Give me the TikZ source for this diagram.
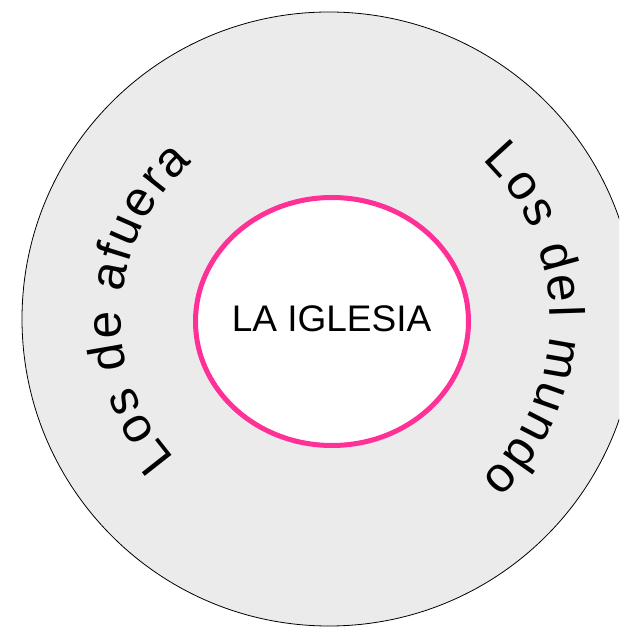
\documentclass[tikz,border=0pt]{standalone}
\usepackage{fontspec}
\setmainfont{Liberation Sans}
\usetikzlibrary{decorations.text}
\definecolor{ringgray}{RGB}{235,235,235}
\definecolor{churchpink}{RGB}{255,48,150}
\begin{document}
\begin{tikzpicture}[x=1pt,y=1pt,
  arctext/.style={decorate, decoration={text along path, text align=fit to path, text={#1}}}]
  \useasboundingbox (0,0) rectangle (619,627);
  \clip (0,0) rectangle (619,627);
  % outer ring: the world
  \coordinate (c) at (329,308);
  \fill[ringgray] (c) circle[radius=307pt];
  \draw[line width=0.8pt] (c) circle[radius=307pt];
  % inner ellipse: the church
  \draw[churchpink, line width=5pt, fill=white] (332,305.5) ellipse[x radius=136.5pt, y radius=124pt];
  \node[inner sep=0pt, font=\fontsize{37}{40}\selectfont] (iglesia) at (331.5,308.7) {LA IGLESIA};
  % curved labels, read clockwise with letter tops facing outward
  \path[arctext={|\fontsize{49.5}{50}\selectfont|Los de afuera}]
    (c) ++(222:208pt) arc[start angle=222, end angle=131, radius=208pt];
  \path[arctext={|\fontsize{49.5}{50}\selectfont|Los del mundo}]
    (c) ++(46:221pt) arc[start angle=46, end angle=-46.5, radius=221pt];
\end{tikzpicture}
\end{document}
